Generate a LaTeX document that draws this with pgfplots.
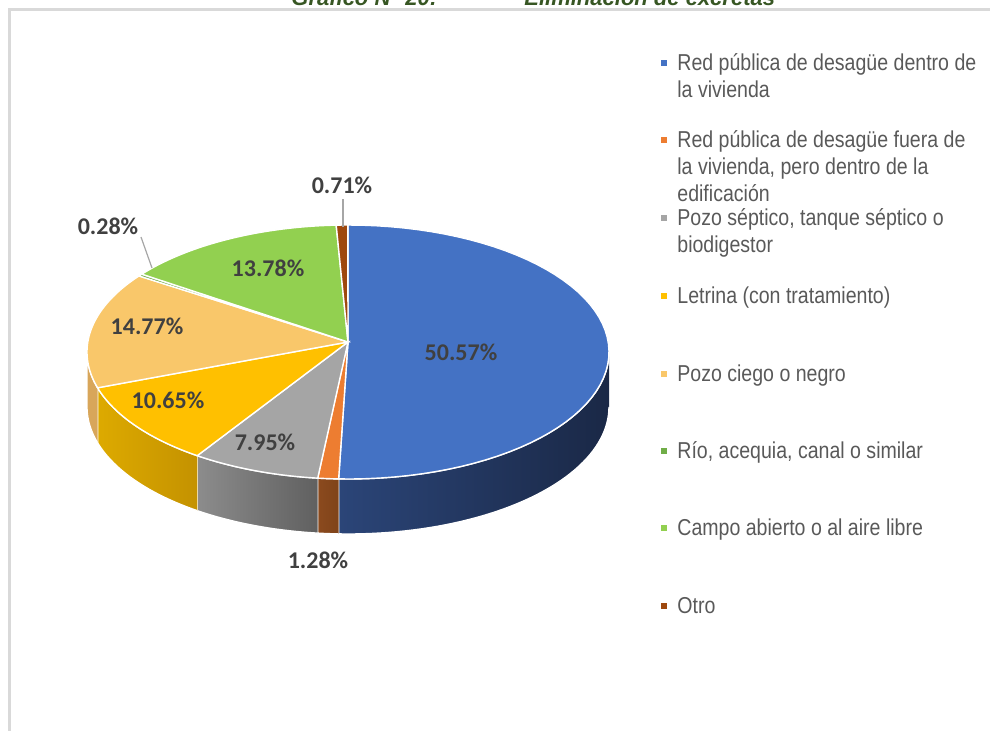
\documentclass[border=0pt]{standalone}
\usepackage{pgfplots}
\pgfplotsset{compat=1.18}
\usepackage{pgfplotstable}
\usepackage{fontspec}
\setmainfont{Liberation Sans}
\newfontfamily\lblfont{Carlito}
\newfontfamily\legfont{Liberation Sans}[FakeStretch=0.85]

\definecolor{cBlue}{HTML}{4472C4}
\definecolor{cOrange}{HTML}{ED7D31}
\definecolor{cGray}{HTML}{A5A5A5}
\definecolor{cYellow}{HTML}{FFC000}
\definecolor{cLOrange}{HTML}{F9C76A}
\definecolor{cDGreen}{HTML}{70AD47}
\definecolor{cLGreen}{HTML}{92D050}
\definecolor{cBrown}{HTML}{9E480E}
\definecolor{sBlueL}{HTML}{2B4578}
\definecolor{sBlueR}{HTML}{1A2846}
\definecolor{sOrL}{HTML}{8B4A1E}
\definecolor{sOrR}{HTML}{7F4319}
\definecolor{sGrL}{HTML}{8C8C8C}
\definecolor{sGrR}{HTML}{606060}
\definecolor{sYeL}{HTML}{DDAA00}
\definecolor{sYeR}{HTML}{C49200}
\definecolor{sLO}{HTML}{D8A65A}
\definecolor{sDG}{HTML}{4F7A32}
\definecolor{sLG}{HTML}{6A9A3A}
\definecolor{sBr}{HTML}{6E320A}
\definecolor{lblc}{HTML}{404040}
\definecolor{legc}{HTML}{595959}
\definecolor{titc}{HTML}{375623}
\definecolor{framec}{HTML}{D9D9D9}

\pgfplotstableread[col sep=comma]{
label,value
Red pública de desagüe dentro de la vivienda,50.57
Red pública de desagüe fuera de la vivienda,1.28
Pozo séptico,7.95
Letrina,10.65
Pozo ciego o negro,14.77
Río acequia canal o similar,0.28
Campo abierto o al aire libre,13.78
Otro,0.71
}\piedata

\def\cum{0}
\pgfplotsforeachungrouped \i in {0,...,7}{%
  \pgfplotstablegetelem{\i}{value}\of\piedata
  \pgfmathsetmacro\tS{3.6*\cum}%
  \pgfmathsetmacro\cumn{\cum+\pgfplotsretval}%
  \pgfmathsetmacro\tE{3.6*\cumn}%
  \expandafter\xdef\csname aS\i\endcsname{\tS}%
  \expandafter\xdef\csname aE\i\endcsname{\tE}%
  \xdef\cum{\cumn}%
}

\def\cx{348}\def\cy{352}\def\rx{261}\def\ry{127}\def\dep{55}\def\ay{342}

\newcommand\pieside[3]{%
  \pgfmathsetmacro\sS{max(\csname aS#1\endcsname,90)}%
  \pgfmathsetmacro\sE{min(\csname aE#1\endcsname,270)}%
  \ifdim\sS pt<\sE pt
    \edef\tmp{\noexpand\addplot[draw=white, line width=0.7pt, left color=#2, right color=#3,
      domain=0:2.1, samples=106, variable=\noexpand\pp]
      ({\cx+\rx*sin(\sS+(\sE-\sS)*min(1,\noexpand\pp,2.1-\noexpand\pp))},
       {\cy-\ry*cos(\sS+(\sE-\sS)*min(1,\noexpand\pp,2.1-\noexpand\pp))+\dep*min(1,max(0,(\noexpand\pp-1)/0.1))});}%
    \tmp
  \fi}

\newcommand\pietop[2]{%
  \edef\tmp{\noexpand\addplot[fill=#2, draw=white, line width=0.7pt,
    domain=\csname aS#1\endcsname:\csname aE#1\endcsname, samples=60, variable=\noexpand\pp]
    ({\cx+\rx*sin(\noexpand\pp)},{\cy-\ry*cos(\noexpand\pp)}) -- (axis cs:\cx,\ay) -- cycle;}%
  \tmp}

\begin{document}%
\begin{tikzpicture}
\begin{axis}[at={(0,0)}, anchor=origin, scale only axis,
  width=495pt, height=365.5pt,
  xmin=0, xmax=990, ymin=0, ymax=731, y dir=reverse,
  hide axis, clip=false, xtick=\empty, ytick=\empty]

% frame
\draw[framec, line width=1.5pt] (axis cs:9,731) -- (axis cs:9,9) -- (axis cs:990,9);
% title (cut off at top)
\node[anchor=base west, font=\bfseries\itshape\fontsize{11}{13}\selectfont, text=titc, inner sep=0pt] at (axis cs:291,5) {Gráfico N° 20:};
\node[anchor=base west, font=\bfseries\itshape\fontsize{11}{13}\selectfont, text=titc, inner sep=0pt] at (axis cs:524,5) {Eliminación de excretas};

% sides
\pieside{0}{sBlueL}{sBlueR}
\pieside{1}{sOrL}{sOrR}
\pieside{2}{sGrL}{sGrR}
\pieside{3}{sYeL}{sYeR}
\pieside{4}{sLO}{sLO}
\pieside{5}{sDG}{sDG}
\pieside{6}{sLG}{sLG}
\pieside{7}{sBr}{sBr}

% tops
\pietop{0}{cBlue}
\pietop{1}{cOrange}
\pietop{2}{cGray}
\pietop{3}{cYellow}
\pietop{4}{cLOrange}
\pietop{5}{cDGreen}
\pietop{6}{cLGreen}
\pietop{7}{cBrown}

% data labels
\tikzset{lbl/.style={font=\lblfont\bfseries\fontsize{12}{14}\selectfont, text=lblc, inner sep=0pt}}
\node[lbl] at (axis cs:461,352) {50.57\%};
\node[lbl] at (axis cs:265,442) {7.95\%};
\node[lbl] at (axis cs:168,400) {10.65\%};
\node[lbl] at (axis cs:147,326) {14.77\%};
\node[lbl] at (axis cs:268,268) {13.78\%};
\node[lbl] at (axis cs:342,185) {0.71\%};
\node[lbl] at (axis cs:108,226) {0.28\%};
\node[lbl] at (axis cs:318,560) {1.28\%};
\draw[gray!70, line width=0.6pt] (axis cs:343,199) -- (axis cs:343,227);
\draw[gray!70, line width=0.6pt] (axis cs:141,237) -- (axis cs:152,268);

% legend
\tikzset{leg/.style={anchor=base west, font=\legfont\fontsize{11.5}{14}\selectfont, text=legc, inner sep=0pt}}
\newcommand\legmark[2]{\fill[#1] (axis cs:661,#2-3) rectangle (axis cs:667,#2+3);}
\legmark{cBlue}{63}
\node[leg] at (axis cs:677,70) {Red pública de desagüe dentro de};
\node[leg] at (axis cs:677,97) {la vivienda};
\legmark{cOrange}{140}
\node[leg] at (axis cs:677,147) {Red pública de desagüe fuera de};
\node[leg] at (axis cs:677,174) {la vivienda, pero dentro de la};
\node[leg] at (axis cs:677,201) {edificación};
\legmark{cGray}{218}
\node[leg] at (axis cs:677,225) {Pozo séptico, tanque séptico o};
\node[leg] at (axis cs:677,252) {biodigestor};
\legmark{cYellow}{296}
\node[leg] at (axis cs:677,303) {Letrina (con tratamiento)};
\legmark{cLOrange}{374}
\node[leg] at (axis cs:677,381) {Pozo ciego o negro};
\legmark{cDGreen}{451}
\node[leg] at (axis cs:677,458) {Río, acequia, canal o similar};
\legmark{cLGreen}{528}
\node[leg] at (axis cs:677,535) {Campo abierto o al aire libre};
\legmark{cBrown}{606}
\node[leg] at (axis cs:677,613) {Otro};
\end{axis}
\pgfresetboundingbox
\path[use as bounding box] (0,0) rectangle (495pt,-365.5pt);
\end{tikzpicture}%
\end{document}
